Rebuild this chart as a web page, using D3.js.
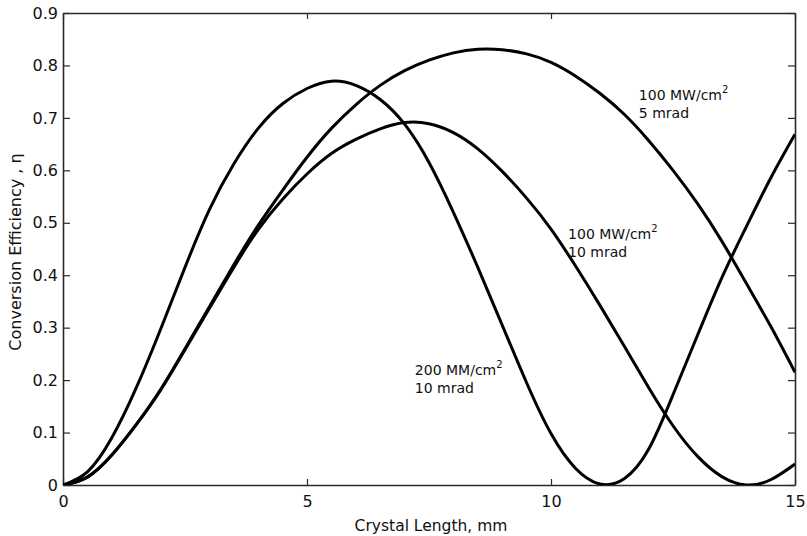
<!DOCTYPE html>
<html>
<head>
<meta charset="utf-8">
<script src="https://cdn.jsdelivr.net/npm/d3@7"></script>
<style>
  html, body { margin: 0; padding: 0; background: #fff; }
  svg { display: block; }
  text { font-family: "DejaVu Sans", "Liberation Sans", Arial, sans-serif; fill: #111; }
</style>
</head>
<body>
<svg id="chart" width="807" height="536"></svg>
<script>
// Crystal length samples (mm)
const crystalLength = [0, 0.5, 1, 1.5, 2, 2.5, 3, 3.5, 4, 4.5, 5, 5.5, 6, 6.5, 7, 7.5,
  8, 8.5, 9, 9.5, 10, 10.5, 11, 11.5, 12, 12.5, 13, 13.5, 14, 14.5, 15];

// Conversion efficiency for 200 MW/cm^2, 10 mrad
const eff200_10 = [0, 0.025, 0.09, 0.185, 0.297, 0.415, 0.525, 0.612, 0.68, 0.727, 0.756,
  0.770, 0.762, 0.735, 0.688, 0.615, 0.52, 0.415, 0.305, 0.195, 0.098, 0.032, 0.002,
  0.012, 0.068, 0.172, 0.285, 0.395, 0.492, 0.585, 0.669];

// Conversion efficiency for 100 MW/cm^2, 5 mrad
const eff100_5 = [0, 0.015, 0.057, 0.115, 0.182, 0.26, 0.34, 0.42, 0.495, 0.562, 0.625,
  0.68, 0.725, 0.762, 0.79, 0.81, 0.824, 0.831, 0.83, 0.822, 0.806, 0.78, 0.747, 0.707,
  0.657, 0.6, 0.537, 0.465, 0.385, 0.303, 0.215];

// Conversion efficiency for 100 MW/cm^2, 10 mrad
const eff100_10 = [0, 0.015, 0.057, 0.115, 0.181, 0.258, 0.337, 0.415, 0.487, 0.545, 0.593,
  0.632, 0.659, 0.679, 0.691, 0.689, 0.672, 0.641, 0.598, 0.547, 0.488, 0.418, 0.343, 0.265,
  0.186, 0.113, 0.055, 0.016, 0.0, 0.01, 0.04];

const xTicks = [0, 5, 10, 15];
const yTicks = [0, 0.1, 0.2, 0.3, 0.4, 0.5, 0.6, 0.7, 0.8, 0.9];
const yTickLabels = ["0", "0.1", "0.2", "0.3", "0.4", "0.5", "0.6", "0.7", "0.8", "0.9"];

// Curve annotations: two text lines anchored in data units
const curveLabels = [
  { lines: ["100 MW/cm", "5 mrad"], x: 11.8, y: 0.734 },
  { lines: ["100 MW/cm", "10 mrad"], x: 10.35, y: 0.469 },
  { lines: ["200 MM/cm", "10 mrad"], x: 7.21, y: 0.21 }
];

const svg = d3.select("#chart");
const mLeft = 63, mRight = 795, mTop = 13, mBottom = 485;

const x = d3.scaleLinear().domain([0, 15]).range([mLeft, mRight]);
const y = d3.scaleLinear().domain([0, 0.9]).range([mBottom, mTop]);

svg.append("clipPath").attr("id", "plotClip")
  .append("rect").attr("x", mLeft).attr("y", mTop - 2)
  .attr("width", mRight - mLeft).attr("height", mBottom - mTop + 2);

// Axis frame with inward ticks on all four sides
const axisColor = "#2a2a2a";

const gLeft = svg.append("g").attr("transform", `translate(${mLeft},0)`)
  .call(d3.axisLeft(y).tickValues(yTicks).tickSizeInner(-7).tickSizeOuter(0)
    .tickPadding(5).tickFormat((d, i) => yTickLabels[i]));
const gRight = svg.append("g").attr("transform", `translate(${mRight},0)`)
  .call(d3.axisRight(y).tickValues(yTicks).tickSizeInner(-7).tickSizeOuter(0).tickFormat(""));
const gBottom = svg.append("g").attr("transform", `translate(0,${mBottom})`)
  .call(d3.axisBottom(x).tickValues(xTicks).tickSizeInner(-6).tickSizeOuter(0)
    .tickPadding(11).tickFormat(d3.format("d")));
const gTop = svg.append("g").attr("transform", `translate(0,${mTop})`)
  .call(d3.axisTop(x).tickValues(xTicks).tickSizeInner(-6).tickSizeOuter(0).tickFormat(""));

[gLeft, gRight, gBottom, gTop].forEach(g => {
  g.select(".domain").attr("stroke", axisColor).attr("stroke-width", 1.6);
  g.selectAll(".tick line").attr("stroke", axisColor).attr("stroke-width", 1.2);
  g.selectAll(".tick text").style("font-size", "16px").attr("fill", "#111")
    .style("font-family", "'DejaVu Sans', 'Liberation Sans', Arial, sans-serif");
});

// Efficiency curves
const line = d3.line()
  .x((d, i) => x(crystalLength[i]))
  .y(d => y(d))
  .curve(d3.curveNatural);

const plot = svg.append("g").attr("clip-path", "url(#plotClip)");
[eff200_10, eff100_5, eff100_10].forEach(series => {
  plot.append("path")
    .datum(series)
    .attr("d", line)
    .attr("fill", "none")
    .attr("stroke", "#000")
    .attr("stroke-width", 3)
    .attr("stroke-linejoin", "round");
});

// Curve annotations
curveLabels.forEach(lbl => {
  const t = svg.append("text")
    .attr("x", x(lbl.x)).attr("y", y(lbl.y))
    .style("font-size", "14px");
  t.append("tspan").text(lbl.lines[0]);
  t.append("tspan").attr("dy", -7).style("font-size", "10px").text("2");
  svg.append("text")
    .attr("x", x(lbl.x)).attr("y", y(lbl.y) + 18)
    .style("font-size", "14px")
    .text(lbl.lines[1]);
});

// Axis titles
svg.append("text")
  .attr("x", (mLeft + mRight) / 2 + 2).attr("y", 531)
  .attr("text-anchor", "middle")
  .style("font-size", "15.5px")
  .text("Crystal Length, mm");

svg.append("text")
  .attr("transform", `translate(21,${252}) rotate(-90)`)
  .attr("text-anchor", "middle")
  .style("font-size", "16px")
  .text("Conversion Efficiency , η");
</script>
</body>
</html>
